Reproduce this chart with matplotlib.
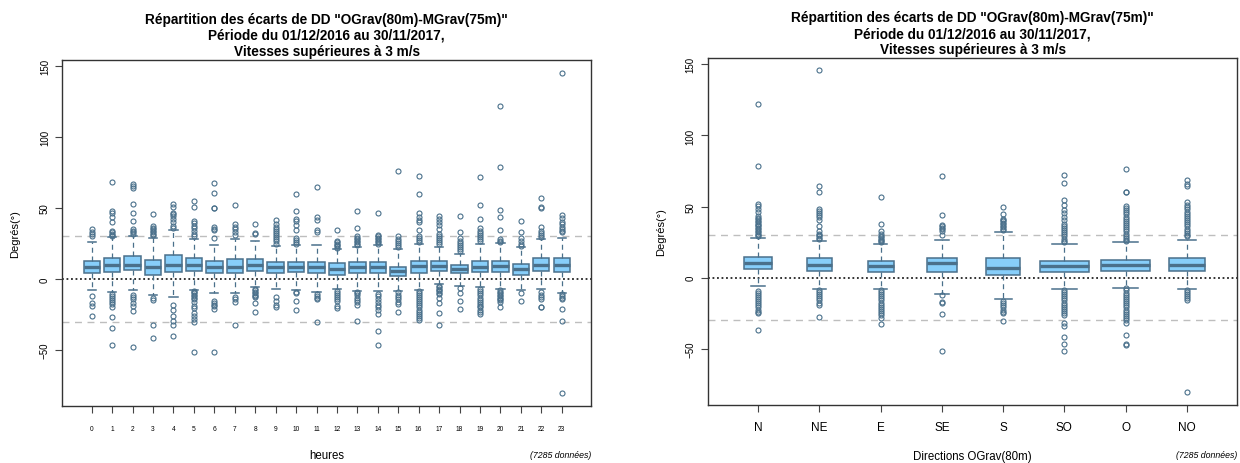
import matplotlib
matplotlib.use("Agg")
import matplotlib.pyplot as plt

plt.rcParams['font.family'] = ['Liberation Sans', 'DejaVu Sans']

# ---- data (degrees) ----
hours = [str(h) for h in range(24)]
h_q1 = [4.0, 4.7, 6.1, 2.6, 4.7, 5.9, 4.0, 4.0, 5.9, 4.0, 4.7, 4.0,
        3.1, 4.0, 4.0, 1.9, 4.5, 5.4, 4.0, 4.7, 4.7, 2.8, 5.9, 4.7]
h_med = [8.2, 9.9, 10.1, 8.2, 10.1, 10.1, 8.2, 8.7, 10.1, 8.2, 8.2, 8.2,
         6.8, 8.2, 8.2, 5.6, 8.9, 9.4, 7.0, 8.7, 8.9, 7.0, 10.1, 10.1]
h_q3 = [12.7, 14.8, 16.0, 13.4, 16.7, 14.8, 12.7, 14.1, 14.1, 11.7, 12.0, 12.0,
        11.0, 12.0, 12.0, 8.7, 12.7, 12.7, 10.1, 12.7, 12.9, 10.6, 14.6, 14.6]
h_lo = [-7.7, -9.4, -7.7, -11.3, -12.9, -7.5, -9.9, -10.1, -5.9, -7.3, -7.7, -9.4,
        -7.0, -8.2, -8.2, -8.2, -7.7, -3.8, -5.2, -5.9, -7.0, -7.7, -7.0, -9.9]
h_hi = [25.8, 29.5, 30.0, 28.6, 34.7, 28.2, 24.2, 27.9, 26.8, 23.5, 23.9, 23.7,
        21.1, 22.5, 23.9, 21.4, 24.4, 22.8, 17.8, 24.6, 25.1, 22.3, 28.2, 28.6]
h_out = [
    [35.2, 33.3, 31.5, 30.0, -11.7, -17.1, -18.8, -25.8],
    [68.1, 48.1, 46.9, 43.4, 39.9, 34.0, 33.0, 32.0, 31.0, 30.5, -10.6, -12.0, -13.5,
     -15.0, -16.0, -17.5, -20.0, -26.8, -34.7, -46.7],
    [66.9, 65.7, 64.1, 52.6, 46.5, 40.6, 35.2, 34.0, 32.9, 31.5, -11.3, -12.4, -14.1,
     -17.1, -18.8, -22.3, -47.9],
    [45.8, 37.1, 36.0, 35.0, 34.0, 33.0, 32.0, 31.0, -13.6, -14.6, -32.4, -41.8],
    [52.8, 50.5, 46.9, 45.8, 44.6, 42.3, 39.9, 37.6, 35.9, -18.1, -21.6, -25.8, -29.3,
     -32.4, -40.4],
    [55.2, 50.5, 40.8, 39.4, 37.6, 35.7, 34.0, 31.7, 30.0, -8.2, -9.0, -10.0, -11.0,
     -12.0, -13.0, -14.0, -16.0, -18.8, -20.7, -23.9, -26.3, -28.2, -30.5, -51.6],
    [67.8, 60.6, 50.2, 49.8, 36.4, 35.2, 34.5, 28.6, -15.7, -16.9, -18.1, -19.2,
     -21.1, -51.6],
    [51.9, 38.5, 36.9, 35.2, 32.9, 31.0, -12.9, -14.1, -16.4, -32.6],
    [38.5, 32.4, 31.7, -7.0, -8.0, -9.0, -10.0, -11.0, -12.0, -12.9, -17.1, -23.5],
    [41.8, 38.7, 37.0, 35.5, 34.0, 32.5, 31.0, 29.5, 28.0, 26.5, 25.0, -12.9, -15.3,
     -18.1, -19.5],
    [59.9, 47.7, 42.0, 40.6, 38.0, 34.5, 29.0, 27.5, 26.0, 25.0, -8.9, -9.9, -15.3, -21.8],
    [64.6, 43.4, 41.8, 34.7, 33.3, -10.6, -11.8, -13.0, -14.1, -30.0],
    [34.5, 27.0, 26.0, 25.0, 24.0, 23.0, 22.0, -8.2, -9.5, -11.0, -12.5, -14.0, -15.5,
     -18.8, -20.4],
    [47.9, 35.9, 30.0, 29.0, 28.0, 27.0, 26.0, 25.0, 24.0, -8.9, -10.0, -11.5, -13.0,
     -14.5, -16.0, -18.1, -29.8],
    [46.2, 31.0, 30.0, 29.0, 28.0, 27.0, 26.0, 25.0, -10.6, -12.0, -14.0, -16.0, -18.0,
     -20.0, -22.0, -24.6, -36.6, -46.5],
    [75.8, 30.0, 28.5, 27.0, 25.5, 24.0, 22.5, -9.4, -11.0, -12.5, -14.0, -16.0, -17.6,
     -23.5],
    [72.5, 59.9, 46.9, 43.4, 41.5, 39.9, 34.7, 30.5, 29.0, 27.5, 26.0, -8.2, -9.5,
     -11.0, -12.5, -14.0, -15.5, -17.0, -18.5, -20.0, -21.5, -23.0, -24.5, -26.0,
     -27.3, -28.6],
    [44.1, 42.0, 40.0, 38.0, 35.2, 32.0, 30.5, 29.0, 27.5, 26.0, 24.5, -4.7, -5.7,
     -6.7, -7.7, -8.7, -9.6, -10.6, -13.6, -16.9, -23.9, -32.6],
    [44.6, 32.9, 28.6, 27.0, 25.5, 24.0, 22.5, 21.0, 19.5, -6.0, -10.1, -15.3, -21.4],
    [71.6, 51.9, 42.0, 35.9, 34.0, 32.5, 31.0, 29.5, 28.0, 26.5, -7.0, -8.5, -10.0,
     -11.5, -13.0, -14.5, -16.0, -17.5, -19.0, -20.0, -21.5, -23.0, -24.6],
    [121.6, 78.6, 48.6, 43.9, 34.5, 28.0, 26.8, 25.8, -8.0, -9.0, -10.0, -11.0, -12.0,
     -13.0, -14.0, -15.0, -16.0, -20.0],
    [40.6, 32.9, 28.9, 26.5, 25.0, 23.5, -10.1, -15.3],
    [56.8, 50.5, 50.0, 36.4, 34.0, 32.5, 31.0, 29.5, -9.4, -11.0, -12.5, -14.1, -19.5,
     -20.0],
    [145.5, 45.1, 42.7, 40.4, 38.7, 37.0, 35.5, 34.0, 33.3, -10.6, -12.0, -13.0, -14.1,
     -21.1, -29.8, -80.3],
]

dirs = ['N', 'NE', 'E', 'SE', 'S', 'SO', 'O', 'NO']
d_n = [569, 474, 474, 619, 813, 1720, 1680, 936]
d_q1 = [6.1, 4.7, 4.0, 4.0, 1.9, 4.0, 4.7, 4.5]
d_med = [10.1, 8.9, 8.0, 10.1, 6.8, 8.0, 8.7, 8.7]
d_q3 = [14.6, 13.8, 12.0, 13.8, 13.8, 12.0, 12.7, 14.1]
d_lo = [-6.1, -7.7, -7.7, -11.3, -15.0, -7.7, -7.0, -8.0]
d_hi = [27.9, 26.1, 23.9, 26.5, 32.2, 23.9, 24.9, 26.5]
d_out = [
    [122.0, 78.4, 52.1, 50.2, 48.4, 46.0, 43.7, 42, 41, 40, 39, 38, 37, 36, 35, 34, 33,
     32, 31, 30, 29, -9.2, -10.5, -12, -13.5, -15, -16.5, -18, -19.5, -21, -22.5, -24,
     -24.9, -36.6],
    [146.0, 64.8, 60.1, 48.4, 47, 45.5, 44, 42.5, 40.8, 36, 33, 31, 30, 29, 28, 27,
     -8.5, -10, -11.5, -13, -14.5, -16, -17.5, -19, -27.7],
    [56.6, 37.8, 33.1, 30.5, 29.5, 28.5, 27.5, 26.5, 25.5, 24.8, -8.5, -10, -11.5, -13,
     -14.5, -16, -17.5, -19, -20.5, -22, -23.5, -25, -26.5, -28.4, -32.4],
    [71.8, 43.9, 37.3, 36, 35, 34, 33, 30.3, -12, -17.2, -17.8, -25.8, -51.6],
    [49.8, 44.8, 41.5, 40.5, 39.5, 38.5, 37.5, 36.5, 35.5, 34.5, 33.5, -16.7, -18,
     -19.5, -21, -22.5, -24, -24.9, -30.3],
    [72.5, 66.7, 54.9, 51.4, 47.9, 45.5, 42.7, 40.4, 38, 36.5, 35, 33.5, 32, 30.5, 29,
     27.5, 26, 24.8, -8.5, -10, -11.5, -13, -14.5, -16, -17.5, -19, -20.5, -22, -23.5,
     -25, -26, -32, -34, -41.8, -46.5, -51.6],
    [76.1, 60.3, 60.0, 50.2, 49, 47.5, 46, 44.5, 43, 41.5, 40, 38.5, 37, 35.5, 34,
     32.5, 31, 29.5, 28, 26.5, 25.6, -7.5, -9, -10.5, -12, -13.5, -15, -16.5, -18,
     -19.5, -21, -22.5, -24, -25.5, -27, -28.5, -30, -32, -40.6, -46.5, -47.5],
    [68.5, 66.2, 64.3, 53, 51.4, 49.5, 48, 46.5, 45, 43.5, 42, 40.5, 39, 37.5, 36,
     34.5, 33, 31.5, 30, 29.1, -8.5, -10, -11.5, -13, -14, -15.5, -80.5],
]

n_total = 7285
title = ('Répartition des écarts de DD "OGrav(80m)-MGrav(75m)"\n'
         'Période du 01/12/2016 au 30/11/2017,\n'
         'Vitesses supérieures à 3 m/s')

edge = '#4A708B'
fill = '#87CEFA'


def make_stats(q1, med, q3, lo, hi, out):
    return [dict(q1=a, med=b, q3=c, whislo=d, whishi=e, fliers=f)
            for a, b, c, d, e, f in zip(q1, med, q3, lo, hi, out)]


def draw_panel(ax, stats, labels, widths, xlim, xlabel, tick_fs):
    pos = list(range(1, len(stats) + 1))
    ax.axhline(30, color='#BEBEBE', lw=1, ls=(0, (5, 4)), zorder=0)
    ax.axhline(-30, color='#BEBEBE', lw=1, ls=(0, (5, 4)), zorder=0)
    ax.axhline(0, color='#222222', lw=1.3, ls=(0, (1, 1.5)), zorder=0)
    ax.bxp(stats, positions=pos, widths=widths, capwidths=[w / 2 for w in widths],
           patch_artist=True, showfliers=True,
           boxprops=dict(facecolor=fill, edgecolor=edge, lw=1.1),
           medianprops=dict(color=edge, lw=2.4, solid_capstyle='butt'),
           whiskerprops=dict(color=edge, lw=0.9, ls=(0, (4, 3))),
           capprops=dict(color=edge, lw=1.1),
           flierprops=dict(marker='o', mfc='none', mec=edge, ms=3.6, mew=0.8))
    ax.set_xlim(*xlim)
    ax.set_ylim(-89.4, 154.3)
    ax.set_yticks([-50, 0, 50, 100, 150])
    ax.set_xticks(pos)
    ax.set_xticklabels(labels, fontsize=tick_fs)
    ax.tick_params(axis='y', labelsize=7, labelrotation=90, length=5, pad=4,
                   color='#444444')
    for t in ax.get_yticklabels():
        t.set_va('center')
    ax.tick_params(axis='x', length=5, color='#444444')
    for s in ax.spines.values():
        s.set_color('#333333')
        s.set_linewidth(1.0)
    ax.set_ylabel('Degrés(°)', fontsize=8, labelpad=14)
    ax.set_title(title, fontsize=9.8, fontweight='bold', linespacing=1.2, pad=3.5)
    ax.set_xlabel(xlabel, fontsize=8.3, labelpad=12)
    # count note, placed at the same figure height for both panels
    x_right = ax.get_position().x1
    fig.text(x_right, 1 - 456 / 464, '(%d données)' % n_total,
             ha='right', va='center', fontsize=6.3, style='italic')


fig = plt.figure(figsize=(12.4, 4.64), dpi=100)
ax1 = fig.add_axes([0.0504, 0.1228, 0.4262, 0.7457])
ax2 = fig.add_axes([0.5710, 0.1256, 0.4266, 0.7466])

draw_panel(ax1, make_stats(h_q1, h_med, h_q3, h_lo, h_hi, h_out), hours,
           [0.8] * len(hours), (-0.43, 25.43), 'heures', 4.8)
ax1.tick_params(axis='x', pad=9)

w_max = max(d_n)
d_w = [0.8 * (n / w_max) ** 0.5 for n in d_n]
draw_panel(ax2, make_stats(d_q1, d_med, d_q3, d_lo, d_hi, d_out), dirs,
           d_w, (0.18, 8.82), 'Directions OGrav(80m)', 8.5)
ax2.tick_params(axis='x', pad=7)

fig.savefig('out.png', dpi=100)
